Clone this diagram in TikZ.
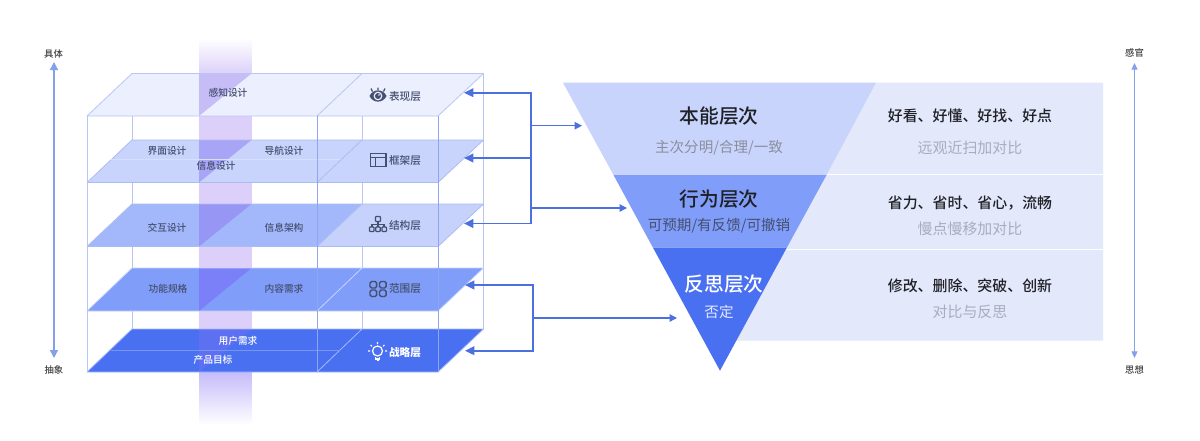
\documentclass[tikz,border=0pt]{standalone}
\usepackage{fontspec}
\setmainfont{Noto Sans CJK SC}
\newfontfamily\medfont{Noto Sans CJK SC Medium}
\usetikzlibrary{arrows.meta}
\definecolor{edgeC}{HTML}{B9C6F3}
\definecolor{frontC}{HTML}{8EA6F2}
\definecolor{busC}{HTML}{4C70E0}
\definecolor{axisC}{HTML}{84A0EA}
\definecolor{bandC}{HTML}{DCD0FA}
\definecolor{pA}{HTML}{EBEFFE}\definecolor{pB}{HTML}{C8D4FC}\definecolor{pC}{HTML}{A3B8FB}\definecolor{pCr}{HTML}{C6D2FB}\definecolor{pD}{HTML}{7F9DF9}\definecolor{pE}{HTML}{4A70F2}
\definecolor{tA}{HTML}{C6BCF6}\definecolor{tB}{HTML}{A8A5F6}\definecolor{tC}{HTML}{9896F5}\definecolor{tD}{HTML}{7B7FF8}\definecolor{tE}{HTML}{5E70F2}
\definecolor{panelC}{HTML}{E3E8FB}
\definecolor{labelC}{HTML}{454F70}
\definecolor{subC}{HTML}{8A8E9E}
\definecolor{subD}{HTML}{A9ADBB}
\definecolor{darkC}{HTML}{1F2126}
\tikzset{
  small/.style={font=\medfont\fontsize{7.3}{8}\selectfont,text=labelC,inner sep=0pt},
  layer/.style={font=\medfont\fontsize{8}{9}\selectfont,text=labelC,inner sep=0pt},
  axislab/.style={font=\medfont\fontsize{7}{8}\selectfont,text=black!75,inner sep=0pt},
  title/.style={font=\medfont\fontsize{14.8}{16}\selectfont,inner sep=0pt},
  sub/.style={font=\fontsize{10.9}{12}\selectfont,inner sep=0pt},
  rhead/.style={font=\medfont\fontsize{11.2}{12}\selectfont,text=darkC,inner sep=0pt},
  rsub/.style={font=\fontsize{11.2}{12}\selectfont,text=subD,inner sep=0pt},
  bus/.style={draw=busC,line width=1.25pt},
  busarrow/.style={draw=busC,line width=1.25pt,-{Triangle[length=7pt,width=6.5pt]}},
  thinarrow/.style={draw=busC,line width=1pt,-{Triangle[length=5.5pt,width=5.5pt]}},
  axisline/.style={draw=axisC,line width=1pt,{Triangle[length=6pt,width=6pt]}-{Triangle[length=6pt,width=6pt]}},
  axislinethin/.style={draw=axisC,line width=0.9pt,{Triangle[length=5pt,width=4.5pt]}-{Triangle[length=5pt,width=4.5pt]}},
  boxedge/.style={draw=edgeC,line width=0.75pt},
  icon/.style={draw=labelC,line width=0.9pt},
}
% #1 back y, #2 front y, #3 left fill, #4 right fill, #5 triangle fill, #6 edge colour
\newcommand{\myplane}[6]{%
  \fill[#3] (132,#1) -- (362,#1) -- (317,#2) -- (87,#2) -- cycle;
  \fill[#4] (362,#1) -- (483.5,#1) -- (438,#2) -- (317,#2) -- cycle;
  \fill[#5] (199,#1) -- (251.5,#1) -- (199,#2) -- cycle;
  \draw[#6,line width=0.6pt,line join=round] (132,#1) -- (483.5,#1) -- (438,#2) -- (87,#2) -- cycle (362,#1) -- (317,#2);
}
\begin{document}
\begin{tikzpicture}[x=0.75pt,y=-0.75pt]
\useasboundingbox (0,0) rectangle (1200,440);
\fill[white] (0,0) rectangle (1200,440);

% purple band
\shade[top color=white,bottom color=bandC] (199,38) rectangle (251.5,74);
\fill[bandC] (199,73.5) rectangle (251.5,372);
\shade[top color=bandC!90!blue,bottom color=white] (199,372) rectangle (251.5,425);

% back verticals
\draw[boxedge] (132,73.5) -- (132,329) (362,73.5) -- (362,329) (483.5,73.5) -- (483.5,329);

% planes
\myplane{73.5}{116}{pA}{pA}{tA}{edgeC}
\myplane{140}{182.5}{pB}{pB}{tB}{edgeC!70!frontC}
\myplane{204}{246.5}{pC}{pCr}{tC}{edgeC!70!frontC}
\myplane{268}{311}{pD}{pD}{tD}{pB}
\myplane{329}{372}{pE}{pE}{tE}{pC}
\draw[pB!60!pA,line width=0.4pt] (111,159.5) -- (340,159.5);
\draw[pC!50!pE,line width=0.4pt] (111,350) -- (340,350);

% front verticals
\draw[boxedge] (87,116) -- (87,372);
\draw[frontC,line width=0.75pt] (317,116) -- (317,372) (438,116) -- (438,372);

% left-hand labels
\node[small] (n1) at (228,93) {感知设计};
\node[small] (n2) at (167,150.5) {界面设计};
\node[small] (n3) at (284,150.5) {导航设计};
\node[small] (n4) at (216,166) {信息设计};
\node[small] (n5) at (167,227.5) {交互设计};
\node[small] (n6) at (284,227.5) {信息架构};
\node[small] (n7) at (168,289) {功能规格};
\node[small] (n8) at (284,289) {内容需求};
\node[small,text=white] (n9) at (238,341) {用户需求};
\node[small,text=white] (n10) at (213,360) {产品目标};

\node[layer] (l1) at (405,96) {表现层};
\node[layer] (l2) at (405,160) {框架层};
\node[layer] (l3) at (405,225) {结构层};
\node[layer] (l4) at (405,288.5) {范围层};
\node[layer,text=white,font=\fontsize{8}{9}\selectfont\bfseries] (l5) at (405,352) {战略层};

% eye icon
\fill[labelC] (369.5,96) .. controls (373,88.5) and (383,88.5) .. (386.5,96) .. controls (383,103.5) and (373,103.5) .. (369.5,96) -- cycle;
\fill[pA] (378,96) circle (4.4);
\fill[labelC] (378,96) circle (3);
\fill[pA] (379,95) circle (0.9);
\draw[labelC,line width=0.9pt] (372.5,91.5) -- (371,88.5) (378,90) -- (378,87.5) (383.5,91.5) -- (385,88.5);
% window icon
\draw[icon] (370.5,153.5) rectangle (386,166.5);
\draw[icon] (370.5,157.5) -- (386,157.5) (375.5,157.5) -- (375.5,166.5);
% org icon
\draw[icon,rounded corners=0.5pt] (375.5,216.5) rectangle (380.5,221.5);
\draw[icon] (378,221.5) -- (378,224.5) (372,227) -- (372,224.5) -- (384,224.5) -- (384,227) (378,224.5) -- (378,227);
\draw[icon,rounded corners=0.5pt] (369.5,227) rectangle (374,231.5) (375.8,227) rectangle (380.2,231.5) (382,227) rectangle (386.5,231.5);
% grid icon
\draw[icon,rounded corners=1.2pt,line width=1.1pt] (370,281.5) rectangle (376.7,288) (379.5,281.5) rectangle (386.2,288) (370,290) rectangle (376.7,296.5) (379.5,290) rectangle (386.2,296.5);
% bulb icon
\draw[white,line width=0.9pt] (377.5,351) circle (5);
\draw[white,line width=0.9pt] (375.5,356.5) -- (375.5,359) -- (379.5,359) -- (379.5,356.5) (376.5,360.5) -- (378.5,360.5);
\draw[white,line width=0.8pt] (377.5,342) -- (377.5,344) (370.5,345) -- (372,346.3) (384.5,345) -- (383,346.3) (368,351) -- (370,351) (385,351) -- (387,351);

% right panel
\fill[panelC] (876,82.7) -- (1103,82.7) -- (1103,340.7) -- (735,340.7) -- cycle;
\draw[white,line width=0.8pt] (820,174.5) -- (1103,174.5) (780,249.7) -- (1103,249.7);

% funnel
\fill[pB] (563,82.7) -- (876,82.7) -- (826.5,175) -- (613.5,175) -- cycle;
\fill[pD] (613.5,175) -- (826.5,175) -- (786.8,247.7) -- (653,247.7) -- cycle;
\fill[pE] (653,247.7) -- (786.8,247.7) -- (720,370.7) -- cycle;

\node[title,text=darkC] (f1) at (719,116.5) {本能层次};
\node[sub,text=subC] (f1s) at (719,147.7) {主次分明/合理/一致};
\node[title,text=darkC] (f2) at (719,199) {行为层次};
\node[sub,text=labelC] (f2s) at (719,225.7) {可预期/有反馈/可撤销};
\node[title,text=white] (f3) at (724,284) {反思层次};
\node[sub,text=white!85!pE] (f3s) at (719,311.7) {否定};

\node[rhead] (r1) at (970,116) {好看、好懂、好找、好点};
\node[rsub] (r1s) at (970,148) {远观近扫加对比};
\node[rhead] (r2) at (970,203) {省力、省时、省心，流畅};
\node[rsub] (r2s) at (970,229) {慢点慢移加对比};
\node[rhead] (r3) at (970,286) {修改、删除、突破、创新};
\node[rsub] (r3s) at (970,312) {对比与反思};

% connector anchors
\coordinate (a1) at (464,92.7);
\coordinate (a2) at (464,158);
\coordinate (a3) at (464,223.5);
\coordinate (b1) at (531,92.7);
\coordinate (b2) at (531,158);
\coordinate (b3) at (531,223.5);
\coordinate (o1) at (531,125.7);
\coordinate (o2) at (531,208);
\coordinate (t1) at (582,125.7);
\coordinate (t2) at (627,208);
\coordinate (a4) at (465,285);
\coordinate (a5) at (465,350.7);
\coordinate (b4) at (532.7,285);
\coordinate (b5) at (532.7,350.7);
\coordinate (o3) at (532.7,318);
\coordinate (t3) at (677,318);

\draw[busarrow] (b1) -- (a1);
\draw[busarrow] (b2) -- (a2);
\draw[busarrow] (b3) -- (a3);
\draw[bus,line cap=rect] (b1) -- (b3);
\draw[thinarrow] (o1) -- (t1);
\draw[thinarrow] (o2) -- (t2);
\draw[busarrow] (b4) -- (a4);
\draw[busarrow] (b5) -- (a5);
\draw[bus,line cap=rect] (b4) -- (b5);
\draw[thinarrow] (o3) -- (t3);

% axes
\node[axislab] (al1) at (53.5,53.5) {具体};
\node[axislab] (al2) at (54,369.5) {抽象};
\node[axislab] (ar1) at (1134.5,53) {感官};
\node[axislab] (ar2) at (1134.5,369.5) {思想};
\coordinate (ax1) at (54,62);
\coordinate (ax2) at (54,358);
\coordinate (ax3) at (1134.5,63);
\coordinate (ax4) at (1134.5,358);
\draw[axisline] (ax1) -- (ax2);
\draw[axislinethin] (ax3) -- (ax4);
\end{tikzpicture}
\end{document}
